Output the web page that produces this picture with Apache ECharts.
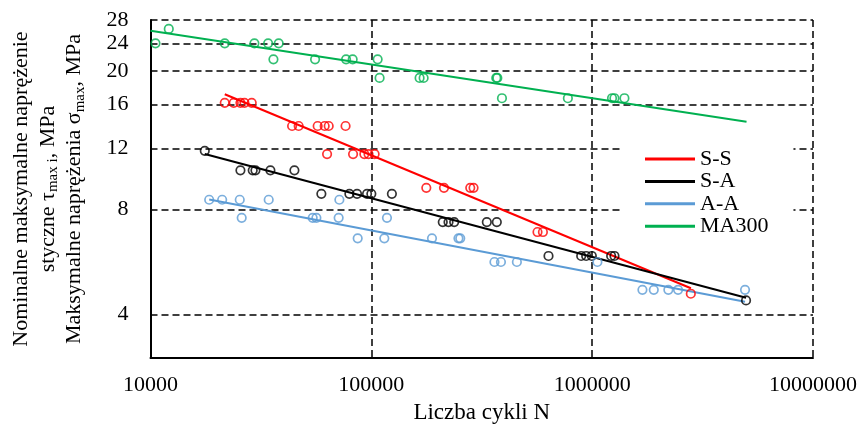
<!DOCTYPE html>
<html><head><meta charset="utf-8">
<script src="https://cdn.jsdelivr.net/npm/echarts@6/dist/echarts.min.js"></script>
<style>html,body{margin:0;padding:0;background:#fff}#c{width:861px;height:429px}</style>
</head><body><div id="c"></div>
<script>
// S-S (red)
const ssN = [21690, 23820, 25540, 26630, 28730, 43770, 46880, 57150, 61480, 64110, 76440, 63040, 82660, 92970, 97110, 103500, 177400, 213300, 280500, 290300, 565500, 598300, 2797000];
const ssS = [16.2, 16.2, 16.2, 16.2, 16.2, 13.9, 13.9, 13.9, 13.9, 13.9, 13.9, 11.55, 11.55, 11.55, 11.55, 11.55, 9.24, 9.24, 9.24, 9.24, 6.9, 6.9, 4.59];
const ssTrendN = [21690, 2800000];
const ssTrendS = [17.15, 4.76];
// S-A (black)
const saN = [17610, 25540, 29030, 29870, 34910, 44840, 59390, 79540, 86150, 95620, 100000, 123900, 210600, 223600, 237200, 333400, 370000, 634300, 891900, 939500, 996600, 1219000, 1262000, 4975000];
const saS = [11.8, 10.37, 10.37, 10.37, 10.37, 10.37, 8.88, 8.88, 8.88, 8.88, 8.88, 8.88, 7.37, 7.37, 7.37, 7.37, 7.37, 5.89, 5.89, 5.89, 5.89, 5.89, 5.89, 4.39];
const saTrendN = [17610, 4975000];
const saTrendS = [11.55, 4.47];
// A-A (blue)
const aaN = [18440, 21110, 25360, 34300, 71660, 25880, 54260, 56380, 71120, 117700, 86740, 114500, 188200, 248000, 252700, 361000, 386300, 456100, 1056000, 1689000, 1901000, 2213000, 2449000, 4923000];
const aaS = [8.54, 8.54, 8.54, 8.54, 8.54, 7.58, 7.58, 7.58, 7.58, 7.58, 6.62, 6.62, 6.62, 6.62, 6.62, 5.66, 5.66, 5.66, 5.66, 4.71, 4.71, 4.71, 4.71, 4.71];
const aaTrendN = [18440, 4923000];
const aaTrendS = [8.55, 4.35];
// MA300 (green)
const maN = [10534, 12100, 21690, 29550, 34090, 38070, 36030, 55620, 76850, 82320, 106800, 109000, 165400, 172500, 367900, 372000, 390400, 776200, 1230000, 1261000, 1400000];
const maS = [24, 26.4, 24, 24, 24, 24, 21.6, 21.6, 21.6, 21.6, 21.6, 19.1, 19.1, 19.1, 19.1, 19.1, 16.7, 16.7, 16.7, 16.7, 16.7];
const maTrendN = [10000, 5000000];
const maTrendS = [26.1, 14.3];

const seriesNames = ['S-S', 'S-A', 'A-A', 'MA300'];
const seriesColors = ['#FF0000', '#000000', '#5B9BD5', '#00B050'];
const yTicks = [4, 8, 12, 16, 20, 24, 28];
const xTicks = [10000, 100000, 1000000, 10000000];

const FONT = '"Liberation Serif", "Times New Roman", serif';
const zip = (a, b) => a.map((v, i) => [v, b[i]]);

const groups = [
  [ssN, ssS, ssTrendN, ssTrendS],
  [saN, saS, saTrendN, saTrendS],
  [aaN, aaS, aaTrendN, aaTrendS],
  [maN, maS, maTrendN, maTrendS]
];

const series = [];
groups.forEach((g, i) => {
  series.push({
    name: seriesNames[i] + ' pts',
    type: 'scatter',
    data: zip(g[0], g[1]),
    symbol: 'circle',
    symbolSize: 8.5,
    itemStyle: { color: 'rgba(0,0,0,0)', borderColor: seriesColors[i], borderWidth: 1.7 },
    z: 3
  });
  series.push({
    name: seriesNames[i],
    type: 'line',
    data: zip(g[2], g[3]),
    symbol: 'none',
    showSymbol: false,
    lineStyle: { color: seriesColors[i], width: 2 },
    itemStyle: { color: seriesColors[i] },
    z: 2
  });
});

const chart = echarts.init(document.getElementById('c'));
chart.setOption({
  animation: false,
  backgroundColor: '#fff',
  grid: { left: 150, right: 48, top: 20, bottom: 61 },
  xAxis: {
    type: 'log', logBase: 10, min: xTicks[0], max: xTicks[xTicks.length - 1],
    axisLine: { show: true, lineStyle: { color: '#000', width: 2 } },
    axisTick: { show: false },
    axisLabel: { fontFamily: FONT, fontSize: 22, color: '#000', margin: 16,
      formatter: v => String(Math.round(v)) },
    splitLine: { show: true, lineStyle: { color: '#000', width: 1.5, type: [7, 4] } },
    name: 'Liczba cykli N', nameLocation: 'middle', nameGap: 32,
    nameTextStyle: { fontFamily: FONT, fontSize: 23, color: '#000' }
  },
  yAxis: {
    type: 'log', logBase: 10, min: 3, max: 28,
    axisLine: { show: true, lineStyle: { color: '#000', width: 2 } },
    axisTick: { show: false, customValues: yTicks },
    axisLabel: { customValues: yTicks, fontFamily: FONT, fontSize: 22, color: '#000', margin: 22,
      formatter: v => String(Math.round(v)) },
    splitLine: { show: true, lineStyle: { color: '#000', width: 1.5, type: [7, 4] } },
    name: 'Nominalne maksymalne naprężenie\nstyczne τ{s|max i}, MPa\nMaksymalne naprężenia σ{s|max}, MPa',
    nameLocation: 'middle', nameGap: 63, nameRotate: 90,
    nameTextStyle: { fontFamily: FONT, fontSize: 22, color: '#000', lineHeight: 26.5, align: 'center',
      rich: { s: { fontFamily: FONT, fontSize: 15, color: '#000', verticalAlign: 'bottom', lineHeight: 18 } } }
  },
  legend: {
    orient: 'vertical', left: 622, top: 140,
    padding: [8, 25, 8, 23],
    backgroundColor: '#fff',
    icon: 'rect',
    itemWidth: 50, itemHeight: 3, itemGap: 0.4,
    textStyle: { fontFamily: FONT, fontSize: 22, color: '#000', lineHeight: 22 },
    data: seriesNames
  },
  series: series
});
</script>
</body></html>
